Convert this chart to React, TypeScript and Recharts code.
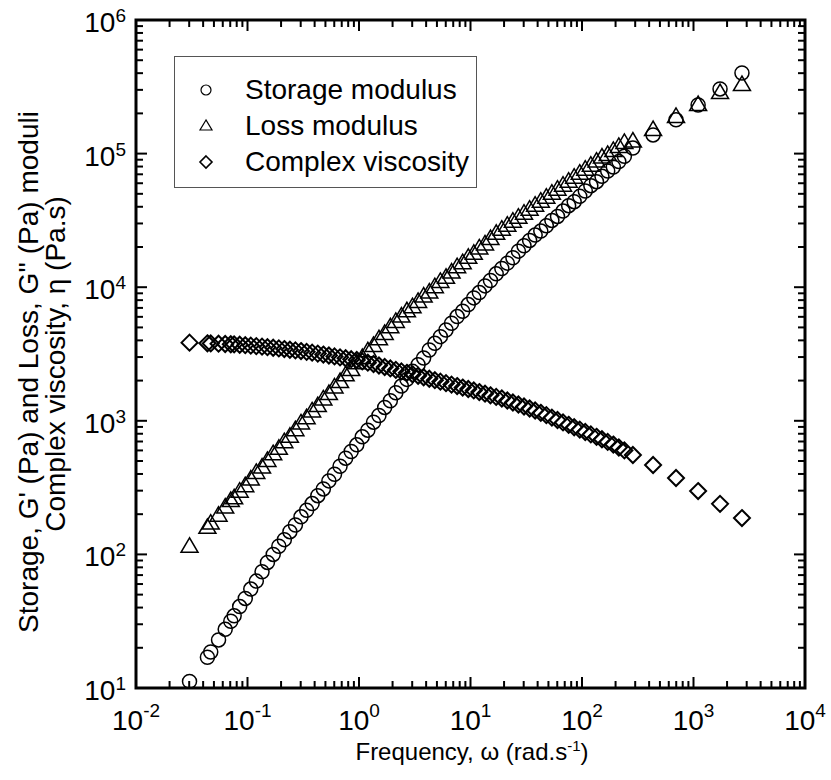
import React from 'react';
import { ScatterChart, Scatter, XAxis, YAxis, ReferenceArea, Legend } from 'recharts';

// frequency (rad/s)
const freq = [
  0.0302, 0.0437, 0.0468, 0.055, 0.0631, 0.0708, 0.0759,
  0.0851, 0.0955, 0.107, 0.12, 0.135, 0.151, 0.17, 0.191, 0.214, 0.24, 0.269, 0.302, 0.339, 0.38, 0.427, 0.479, 0.537, 0.603, 0.676, 0.759, 0.851, 0.955,
  1.07, 1.2, 1.35, 1.51, 1.7, 1.91, 2.14, 2.4, 2.69, 3.02, 3.39, 3.8, 4.27, 4.79, 5.37, 6.03, 6.76, 7.59, 8.51, 9.55,
  10.7, 12, 13.5, 15.1, 17, 19.1, 21.4, 24, 26.9, 30.2, 33.9, 38, 42.7, 47.9, 53.7, 60.3, 67.6, 75.9, 85.1, 95.5,
  107, 120, 135, 151, 170, 191, 214, 240,
  286, 434, 697, 1100, 1730, 2720,
];

// G' (Pa)
const storage = [
  11.2, 17.0, 18.6, 22.9, 27.5, 31.6, 34.7,
  40.7, 46.8, 55.0, 63.1, 74.1, 87.1, 100, 115, 129, 148, 166, 191, 214, 240, 275, 309, 355, 398, 457, 525, 589, 661,
  759, 851, 977, 1096, 1259, 1413, 1622, 1820, 2042, 2344, 2630, 2951, 3388, 3802, 4266, 4786, 5370, 6026, 6607, 7413,
  8318, 9120, 10230, 11220, 12590, 13800, 15140, 16600, 18620, 20420, 22390, 24550, 26300, 28840, 31620, 33880, 37150, 40740, 43650, 47860,
  52480, 57540, 61660, 67610, 74130, 79430, 87100, 95500,
  110000, 138000, 179000, 231000, 305000, 401000,
];

// G'' (Pa)
const loss = [
  114, 158, 170, 195, 224, 251, 263,
  295, 324, 363, 407, 447, 501, 562, 617, 692, 759, 851, 955, 1047, 1175, 1288, 1445, 1585, 1778, 1950, 2188, 2399, 2692,
  2951, 3311, 3631, 4074, 4467, 5012, 5495, 6026, 6607, 7079, 7762, 8511, 9120, 10000, 10960, 11750, 12880, 14130, 15140, 16600,
  17780, 19500, 20890, 22910, 25120, 26920, 28840, 30900, 33110, 35480, 38020, 40740, 43650, 46770, 50120, 53700, 57540, 61660, 66070, 70790,
  75860, 81280, 87100, 93330, 97720, 104700, 112200, 120200,
  123000, 150000, 188000, 231000, 284000, 326000,
];

// complex viscosity (Pa.s)
const viscosity = [
  3846, 3802, 3793, 3776, 3758, 3741, 3733,
  3707, 3681, 3656, 3622, 3589, 3556, 3524, 3483, 3443, 3404, 3365, 3327, 3281, 3236, 3184, 3133, 3083, 3034, 2985, 2938, 2891, 2851,
  2786, 2723, 2661, 2594, 2529, 2466, 2404, 2344, 2286, 2228, 2173, 2118, 2065, 2014, 1963, 1914, 1866, 1820, 1774, 1730,
  1687, 1641, 1596, 1552, 1510, 1469, 1419, 1371, 1324, 1279, 1236, 1194, 1148, 1102, 1057, 1014, 973, 933, 895, 859,
  824, 791, 759, 728, 695, 664, 631, 600,
  555, 467, 373, 298, 239, 187,
];

const xDecades = [-2, -1, 0, 1, 2, 3, 4];
const yDecades = [1, 2, 3, 4, 5, 6];
const minorSteps = [2, 3, 4, 5, 6, 7, 8, 9];

const seriesNames = ['Storage modulus', 'Loss modulus', 'Complex viscosity'];

const FONT = '"Liberation Sans", Arial, Helvetica, sans-serif';
const PLOT = { left: 136, right: 805, top: 20, bottom: 688 };

const makeTicks = (decades: number[]) => {
  const out: number[] = [];
  decades.forEach((d, i) => {
    out.push(Math.pow(10, d));
    if (i < decades.length - 1) minorSteps.forEach((m) => out.push(m * Math.pow(10, d)));
  });
  return out;
};
const xTicks = makeTicks(xDecades);
const yTicks = makeTicks(yDecades);

const isMajor = (v: number) => {
  const l = Math.log10(v);
  return Math.abs(l - Math.round(l)) < 1e-6;
};

const toPoints = (vals: number[]) => freq.map((w, i) => ({ w, v: vals[i] }));

const Circle = (p: any) => (
  <circle cx={p.cx} cy={p.cy} r={7} fill="none" stroke="#000" strokeWidth={1.5} />
);
const Triangle = (p: any) => (
  <polygon
    points={`${p.cx},${p.cy - 9} ${p.cx - 8.5},${p.cy + 5.5} ${p.cx + 8.5},${p.cy + 5.5}`}
    fill="none"
    stroke="#000"
    strokeWidth={1.5}
  />
);
const Diamond = (p: any) => (
  <polygon
    points={`${p.cx},${p.cy - 8} ${p.cx + 8},${p.cy} ${p.cx},${p.cy + 8} ${p.cx - 8},${p.cy}`}
    fill="none"
    stroke="#000"
    strokeWidth={2}
  />
);

const XTick = (props: any) => {
  const { x, payload } = props;
  const v = payload.value;
  const major = isMajor(v);
  const len = major ? 11 : 7;
  const e = Math.round(Math.log10(v));
  return (
    <g>
      <line x1={x} x2={x} y1={PLOT.bottom} y2={PLOT.bottom - len} stroke="#000" strokeWidth={2} />
      <line x1={x} x2={x} y1={PLOT.top} y2={PLOT.top + len} stroke="#000" strokeWidth={2} />
      {major && (
        <text x={x} y={730} textAnchor="middle" fontFamily={FONT} fontSize={28} fill="#000">
          10<tspan dy={-13} fontSize={19}>{e}</tspan>
        </text>
      )}
    </g>
  );
};

const YTick = (props: any) => {
  const { y, payload } = props;
  const v = payload.value;
  const major = isMajor(v);
  const len = major ? 11 : 7;
  const e = Math.round(Math.log10(v));
  return (
    <g>
      <line x1={PLOT.left} x2={PLOT.left + len} y1={y} y2={y} stroke="#000" strokeWidth={2} />
      <line x1={PLOT.right} x2={PLOT.right - len} y1={y} y2={y} stroke="#000" strokeWidth={2} />
      {major && (
        <text x={126} y={y + 12} textAnchor="end" fontFamily={FONT} fontSize={28} fill="#000">
          10<tspan dy={-10} fontSize={19}>{e}</tspan>
        </text>
      )}
    </g>
  );
};

const XTitle = () => (
  <text x={472} y={760} textAnchor="middle" fontFamily={FONT} fontSize={24} fill="#000">
    Frequency, ω (rad.s<tspan dy={-9} fontSize={15}>-1</tspan>
    <tspan dy={9}>)</tspan>
  </text>
);

const YTitle = () => (
  <g fontFamily={FONT} fontSize={28} fill="#000">
    <text transform="translate(38,372) rotate(-90)" textAnchor="middle">
      Storage, G' (Pa) and Loss, G'' (Pa) moduli
    </text>
    <text transform="translate(65,364) rotate(-90)" textAnchor="middle">
      Complex viscosity, η (Pa.s)
    </text>
  </g>
);

const legendIcons = [
  <circle key="c" cx={12} cy={12} r={5} fill="none" stroke="#000" strokeWidth={1.2} />,
  <polygon key="t" points="12,6 6,16 18,16" fill="none" stroke="#000" strokeWidth={1.2} />,
  <polygon key="d" points="12,6 18,12 12,18 6,12" fill="none" stroke="#000" strokeWidth={1.6} />,
];

const LegendBox = () => (
  <div
    style={{
      width: 303,
      height: 132,
      boxSizing: 'border-box',
      border: '1px solid #555',
      background: '#fff',
      fontFamily: FONT,
      fontSize: 28,
      color: '#000',
      paddingTop: 15,
    }}
  >
    {seriesNames.map((name, i) => (
      <div key={name} style={{ display: 'flex', alignItems: 'center', height: 36 }}>
        <svg width={24} height={24} style={{ marginLeft: 19, marginRight: 27 }}>
          {legendIcons[i]}
        </svg>
        <span>{name}</span>
      </div>
    ))}
  </div>
);

export default function App() {
  return (
    <div style={{ position: 'absolute', left: 0, top: 0, background: '#fff' }}>
      <ScatterChart width={831} height={780} margin={{ top: 20, right: 26, left: 76, bottom: 32 }}>
        <XAxis
          dataKey="w"
          type="number"
          scale="log"
          domain={[0.01, 10000]}
          allowDataOverflow
          ticks={xTicks}
          interval={0}
          tick={<XTick />}
          tickLine={false}
          axisLine={false}
          height={60}
          label={<XTitle />}
        />
        <YAxis
          dataKey="v"
          type="number"
          scale="log"
          domain={[10, 1000000]}
          allowDataOverflow
          ticks={yTicks}
          interval={0}
          tick={<YTick />}
          tickLine={false}
          axisLine={false}
          width={60}
          label={<YTitle />}
        />
        <ReferenceArea
          x1={0.01}
          x2={10000}
          y1={10}
          y2={1000000}
          fill="none"
          fillOpacity={0}
          stroke="#000"
          strokeWidth={3}
          strokeOpacity={1}
          ifOverflow="visible"
        />
        <Scatter name={seriesNames[0]} data={toPoints(storage)} shape={Circle} isAnimationActive={false} />
        <Scatter name={seriesNames[1]} data={toPoints(loss)} shape={Triangle} isAnimationActive={false} />
        <Scatter name={seriesNames[2]} data={toPoints(viscosity)} shape={Diamond} isAnimationActive={false} />
        <Legend
          layout="vertical"
          align="center"
          verticalAlign="middle"
          content={<LegendBox />}
          wrapperStyle={{ left: 174, top: 56, width: 303, height: 132 }}
        />
      </ScatterChart>
    </div>
  );
}
